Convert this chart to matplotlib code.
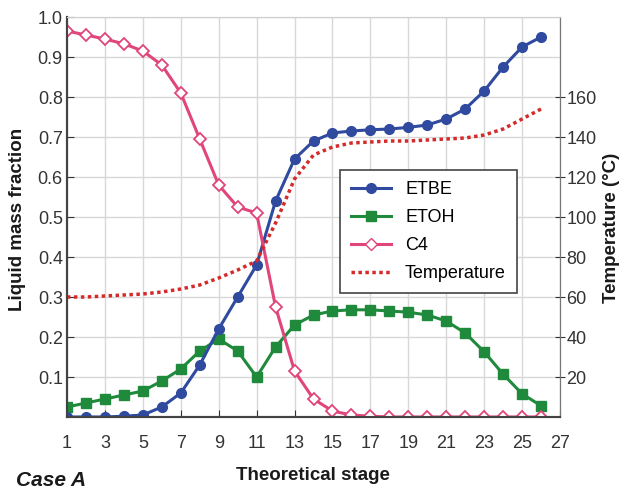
import numpy as np
import matplotlib
matplotlib.use("Agg")
import matplotlib.pyplot as plt
from matplotlib.lines import Line2D

plt.rcParams['font.family'] = ['Liberation Sans', 'DejaVu Sans']

# data
stages = list(range(1, 27))
etbe = [0.0, 0.0, 0.0, 0.002, 0.005, 0.025, 0.06, 0.13, 0.22, 0.30, 0.38, 0.54, 0.645,
        0.69, 0.71, 0.715, 0.718, 0.72, 0.724, 0.73, 0.745, 0.77, 0.815, 0.875, 0.925, 0.95]
etoh = [0.025, 0.035, 0.045, 0.055, 0.065, 0.09, 0.12, 0.165, 0.195, 0.165, 0.10, 0.175, 0.23,
        0.255, 0.265, 0.268, 0.268, 0.265, 0.262, 0.255, 0.24, 0.21, 0.163, 0.107, 0.058, 0.028]
c4 = [0.965, 0.955, 0.945, 0.933, 0.915, 0.88, 0.81, 0.695, 0.58, 0.525, 0.51, 0.275, 0.115,
      0.045, 0.015, 0.005, 0.002, 0.0, 0.0, 0.0, 0.0, 0.0, 0.0, 0.0, 0.0, 0.0]
temp = [60, 60, 60.5, 61, 61.5, 62.5, 64, 66, 69.5, 73.5, 78, 97, 119,
        131, 135, 137, 137.5, 138, 138, 138.5, 139, 139.5, 141, 144, 149, 154]

xticks = list(range(1, 28, 2))
yticks = [0.1, 0.2, 0.3, 0.4, 0.5, 0.6, 0.7, 0.8, 0.9, 1.0]
tticks = [20, 40, 60, 80, 100, 120, 140, 160]

c_etbe = '#2f4a9e'
c_etoh = '#1f8a3c'
c_c4 = '#e0457b'
c_temp = '#d42a2a'

W, H = 626, 493
fig = plt.figure(figsize=(W/100, H/100), dpi=100)
ax = fig.add_axes([67/W, 76/H, 493/W, 400/H])
ax2 = ax.twinx()

ax.plot(stages, etoh, c=c_etoh, lw=2.2, marker='s', ms=7, mfc=c_etoh, mec=c_etoh, zorder=3)
ax.plot(stages, etbe, c=c_etbe, lw=2.2, marker='o', ms=7, mfc=c_etbe, mec=c_etbe, zorder=4)
ax.plot(stages, c4, c=c_c4, lw=2.2, marker='D', ms=6, mfc='white', mec=c_c4, mew=1.3, zorder=5)
ax2.plot(stages, temp, c=c_temp, lw=2.5, ls=(0, (1, 1)))

ax.set_xlim(1, 27)
ax.set_ylim(0, 1.0)
ax2.set_ylim(0, 200)
ax.set_xticks(xticks)
ax.set_yticks(yticks)
ax.set_yticklabels(['%.1f' % v for v in yticks])
ax2.set_yticks(tticks)

ax.grid(True, color='#d8d8d8', lw=1)
ax.set_axisbelow(True)
for a in (ax, ax2):
    a.spines['top'].set_color('#d0d0d0')
    a.spines['left'].set_color('#444444')
    a.spines['bottom'].set_color('#444444')
    a.spines['right'].set_color('#777777')
    a.spines['left'].set_linewidth(1.5)
    a.spines['bottom'].set_linewidth(1.5)

ax.tick_params(axis='both', direction='in', labelsize=13, colors='#333333', length=5)
ax.tick_params(axis='y', pad=3)
ax.tick_params(axis='x', pad=13)
ax2.tick_params(axis='y', direction='inout', labelsize=13, colors='#333333', length=7, pad=1)

fig.text(313/W, 1 - 475/H, 'Theoretical stage', fontsize=13.5, fontweight='bold',
         ha='center', va='center', color='#1a1a1a')
fig.text(18/W, 1 - 219/H, 'Liquid mass fraction', fontsize=13.5, fontweight='bold',
         rotation=90, ha='center', va='center', color='#1a1a1a')
fig.text(611/W, 1 - 228/H, 'Temperature (\u00b0C)', fontsize=13.5, fontweight='bold',
         rotation=90, ha='center', va='center', color='#1a1a1a')
fig.text(16/W, 1 - 481/H, 'Case A', fontsize=15, fontweight='bold', style='italic',
         va='center', ha='left', color='#1a1a1a')

handles = [
    Line2D([], [], c=c_etbe, lw=2.2, marker='o', ms=7),
    Line2D([], [], c=c_etoh, lw=2.2, marker='s', ms=7),
    Line2D([], [], c=c_c4, lw=2.2, marker='D', ms=6, mfc='white', mec=c_c4),
    Line2D([], [], c=c_temp, lw=2.5, ls=(0, (1, 1))),
]
leg = ax2.legend(handles, ['ETBE', 'ETOH', 'C4', 'Temperature'], loc='upper left',
                 bbox_to_anchor=(0.554, 0.6175), fontsize=13, frameon=True, fancybox=False,
                 edgecolor='#444444', framealpha=1, handlelength=2.2, borderpad=0.6,
                 labelspacing=0.62, borderaxespad=0)
leg.get_frame().set_linewidth(1.2)

plt.savefig('out.png', dpi=100)
